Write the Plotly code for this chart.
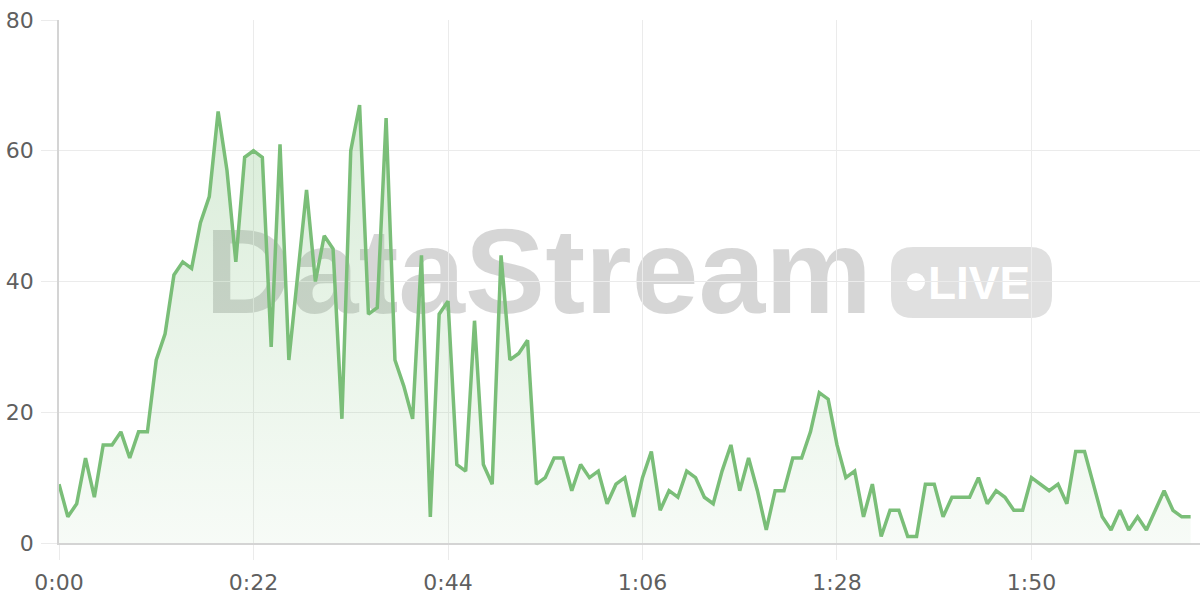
import plotly.graph_objects as go

# ---- data (one value per second) ----
values = [9, 4, 6, 13, 7, 15, 15, 17, 13, 17,
          17, 28, 32, 41, 43, 42, 49, 53, 66, 57,
          43, 59, 60, 59, 30, 61, 28, 41, 54, 40,
          47, 45, 19, 60, 67, 35, 36, 65, 28, 24,
          19, 44, 4, 35, 37, 12, 11, 34, 12, 9,
          44, 28, 29, 31, 9, 10, 13, 13, 8, 12,
          10, 11, 6, 9, 10, 4, 10, 14, 5, 8,
          7, 11, 10, 7, 6, 11, 15, 8, 13, 8,
          2, 8, 8, 13, 13, 17, 23, 22, 15, 10,
          11, 4, 9, 1, 5, 5, 1, 1, 9, 9,
          4, 7, 7, 7, 10, 6, 8, 7, 5, 5,
          10, 9, 8, 9, 6, 14, 14, 9, 4, 2,
          5, 2, 4, 2, 5, 8, 5, 4, 4]
seconds = list(range(len(values)))
tick_vals = [0, 22, 44, 66, 88, 110]
tick_text = ["0:00", "0:22", "0:44", "1:06", "1:28", "1:50"]
y_ticks = [0, 20, 40, 60, 80]

W, H = 1200, 600
OFF = 0  # body margin removed via post_script
# plot area in page pixels
PL, PR, PT, PB = 59, 1200, 20, 543


def px(x):
    return (x - PL) / (PR - PL)


def py(y):
    return (PB - y) / (PB - PT)


LINE = "rgb(122,190,120)"

fig = go.Figure()
fig.add_trace(go.Scatter(
    x=seconds, y=values, mode="lines",
    line=dict(color=LINE, width=3.5),
    fill="tozeroy",
    fillgradient=dict(type="vertical", start=0, stop=70,
                      colorscale=[[0, "rgba(122,190,120,0.06)"],
                                  [1, "rgba(122,190,120,0.30)"]]),
    hoverinfo="skip", showlegend=False,
))

# ---- watermark ----
shapes = []
shapes.append(dict(
    type="rect", xref="paper", yref="paper", layer="below",
    x0=px(191), x1=px(886), y0=py(319), y1=py(201),
    line=dict(width=0), fillcolor="rgba(0,0,0,0)",
    label=dict(text="<b>DataStream</b>", textposition="middle center",
               font=dict(family="Liberation Sans, Arial", size=120,
                         color="rgba(0,0,0,0.16)")),
))
bx0, bx1, by0, by1, r = 891, 1052, 247, 318, 22
path = (f"M {px(bx0 + r)},{py(by0)} L {px(bx1 - r)},{py(by0)} "
        f"Q {px(bx1)},{py(by0)} {px(bx1)},{py(by0 + r)} "
        f"L {px(bx1)},{py(by1 - r)} "
        f"Q {px(bx1)},{py(by1)} {px(bx1 - r)},{py(by1)} "
        f"L {px(bx0 + r)},{py(by1)} "
        f"Q {px(bx0)},{py(by1)} {px(bx0)},{py(by1 - r)} "
        f"L {px(bx0)},{py(by0 + r)} "
        f"Q {px(bx0)},{py(by0)} {px(bx0 + r)},{py(by0)} Z")
shapes.append(dict(type="path", xref="paper", yref="paper", layer="below",
                   path=path, line=dict(width=0),
                   fillcolor="rgba(0,0,0,0.12)"))
cx, cy, cr = 916, 282, 9
shapes.append(dict(type="circle", xref="paper", yref="paper", layer="below",
                   x0=px(cx - cr), x1=px(cx + cr), y0=py(cy + cr), y1=py(cy - cr),
                   line=dict(width=0), fillcolor="white"))
shapes.append(dict(
    type="rect", xref="paper", yref="paper", layer="below",
    x0=px(929), x1=px(1029), y0=py(307), y1=py(251),
    line=dict(width=0), fillcolor="rgba(0,0,0,0)",
    label=dict(text="<b>LIVE</b>", textposition="middle center",
               font=dict(family="Liberation Sans, Arial", size=46,
                         color="white")),
))

fig.update_layout(
    width=W, height=H,
    margin=dict(l=PL - OFF, r=W - PR + OFF, t=PT - OFF, b=H - PB + OFF,
                autoexpand=False),
    paper_bgcolor="white", plot_bgcolor="white",
    shapes=shapes,
    font=dict(family="DejaVu Sans, sans-serif", size=22, color="#5f5f5f"),
)
fig.update_xaxes(
    range=[0, 129.06], tickmode="array", tickvals=tick_vals, ticktext=tick_text,
    showgrid=True, gridcolor="#ebebeb", gridwidth=1,
    showline=True, linecolor="#d4d4d4", linewidth=2,
    ticks="outside", ticklen=15, tickcolor="#ebebeb", tickwidth=1,
    ticklabelstandoff=4, ticklabeloverflow="allow",
    zeroline=False, fixedrange=True, automargin=False,
)
fig.update_yaxes(
    range=[0, 80], tickmode="array", tickvals=y_ticks,
    showgrid=True, gridcolor="#ebebeb", gridwidth=1,
    showline=True, linecolor="#d4d4d4", linewidth=1.5,
    ticks="outside", ticklen=16, tickcolor="#ebebeb", tickwidth=1,
    ticklabelstandoff=3, ticklabeloverflow="allow",
    zeroline=False, fixedrange=True, automargin=False,
)

fig.write_html("out.html", config={"displayModeBar": False},
               post_script="document.body.style.margin='0';")
